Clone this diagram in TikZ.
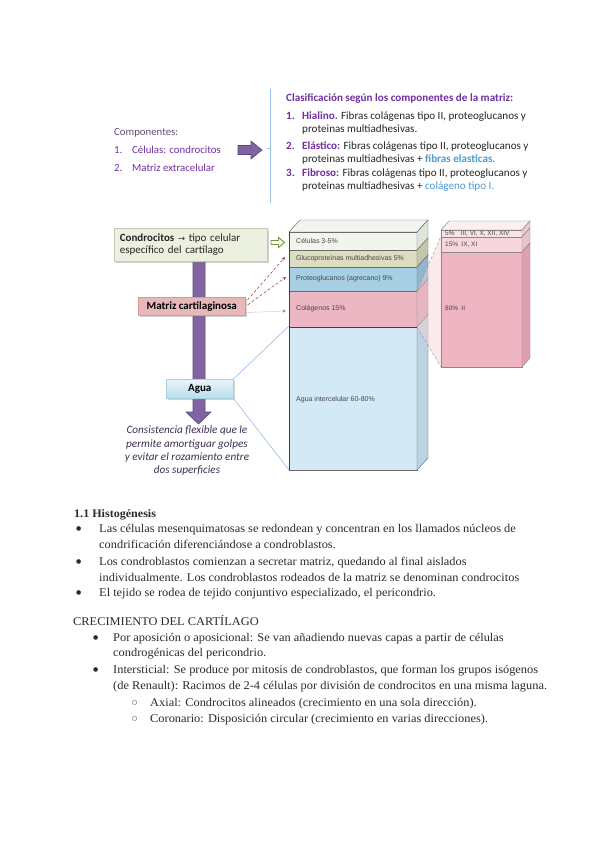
\documentclass[tikz,border=0pt]{standalone}
\usepackage{fontspec}
\setmainfont[FakeStretch=1.05]{Liberation Serif}
\newfontfamily\calfont{Carlito}
\newfontfamily\arlfont{Liberation Sans}
\newfontfamily\djfont{DejaVu Sans}
\usetikzlibrary{shadows,arrows.meta}
\definecolor{purp}{HTML}{7030A0}
\definecolor{purpgray}{HTML}{604A7B}
\definecolor{barp}{HTML}{8064A2}
\definecolor{barpd}{HTML}{5F497A}
\definecolor{bltxt}{HTML}{4A9BD6}
\definecolor{txt}{HTML}{262626}
\definecolor{brk}{HTML}{9DC3E6}
\definecolor{itxt}{HTML}{3F3151}
\definecolor{condfill}{HTML}{EBF1DE}
\definecolor{condline}{HTML}{C4C9B5}
\definecolor{matfill}{HTML}{E6B9B8}
\definecolor{matline}{HTML}{D99694}
\definecolor{aguafill}{HTML}{DBEEF4}
\definecolor{aguabot}{HTML}{B9DDEA}
\definecolor{agualine}{HTML}{A5D2E0}
\definecolor{redarr}{HTML}{953735}
\definecolor{grnarr}{HTML}{77933C}
\definecolor{edge}{HTML}{6A6A6A}
\definecolor{bodytxt}{HTML}{2B2B2B}
\definecolor{topface}{HTML}{F3F4F0}
\definecolor{celF}{HTML}{F1F5EC}
\definecolor{gluF}{HTML}{DDDDC1}
\definecolor{proF}{HTML}{A8D0E4}
\definecolor{colF}{HTML}{EDB6C3}
\definecolor{aguF}{HTML}{D3EAF6}
\definecolor{celS}{HTML}{DEE4D7}
\definecolor{gluS}{HTML}{C6C7A8}
\definecolor{proS}{HTML}{92B7CC}
\definecolor{colS}{HTML}{D89EAD}
\definecolor{aguS}{HTML}{BCD3E1}
\definecolor{fanpink}{HTML}{F6D2D8}
\definecolor{rtop}{HTML}{FBEFF0}
\definecolor{r1F}{HTML}{F8E3E5}
\definecolor{r2F}{HTML}{F6D6DA}
\definecolor{r3F}{HTML}{EFB5C2}
\definecolor{r1S}{HTML}{EBCDD2}
\definecolor{r2S}{HTML}{E7C4C9}
\definecolor{r3S}{HTML}{DDA0B0}
\begin{document}
\begin{tikzpicture}[x=1pt,y=-1pt,
  tl/.style={inner sep=0pt, anchor=west, text height=7pt, text depth=2pt, font=\calfont\fontsize{10.8}{12}\selectfont},
  ct/.style={inner sep=0pt, anchor=west, text height=7pt, text depth=2pt, text=txt, font=\calfont\fontsize{11.1}{13}\selectfont},
  ctb/.style={ct, text=purp, font=\calfont\bfseries\fontsize{11.1}{13}\selectfont},
  sl/.style={inner sep=0pt, anchor=west, text height=5pt, text depth=1.5pt, text=black!72, font=\arlfont\fontsize{7}{8}\selectfont},
  sr/.style={sl, font=\arlfont\fontsize{6.5}{7.5}\selectfont},
  bt/.style={inner sep=0pt, anchor=west, text height=8pt, text depth=2pt, text=bodytxt, font=\fontsize{11.8}{13}\selectfont},
  bul/.style={inner sep=0pt, anchor=west, text=bodytxt, font=\djfont\fontsize{6}{7}\selectfont},
  boxsh/.style={drop shadow={shadow xshift=1.5pt, shadow yshift=-1.5pt, opacity=.35}},
  redar/.style={redarr, densely dashed, line width=0.5pt, -{Stealth[length=3.5pt,width=3pt]}},
  fanline/.style={black!45, densely dashed, line width=0.35pt},
  blueline/.style={brk!90!blue, line width=0.5pt}
]
\useasboundingbox (0,0) rectangle (600,848);
\fill[white] (0,0) rectangle (600,848);

% ---------- top left list ----------
\node[tl, text=purpgray] (comp) at (114,133) {Componentes:};
\node[tl, text=purp] (n1) at (114,151) {1.};
\node[tl, text=purp] (i1) at (132,151) {Células: condrocitos};
\node[tl, text=purp] (n2) at (114,169) {2.};
\node[tl, text=purp] (i2) at (132,169) {Matriz extracelular};
% purple block arrow
\draw[barpd, fill=barp, line width=0.6pt, line join=miter]
  (238,145.5) -- (251,145.5) -- (251,141) -- (262,150) -- (251,159) -- (251,154.5) -- (238,154.5) -- cycle;

% ---------- classification ----------
\draw[brk, line width=0.8pt] (270,89) -- (270,203);
\draw[brk, line width=0.8pt] (267,148) -- (270,148);
\node[ctb] (clt) at (286,99.5) {Clasificación según los componentes de la matriz:};
\node[ctb] (c1n) at (286,117) {1.};
\node[ct] (c1a) at (302,117) {\textcolor{purp}{\bfseries Hialino.} Fibras colágenas tipo II, proteoglucanos y};
\node[ct] (c1b) at (302,129.5) {proteinas multiadhesivas.};
\node[ctb] (c2n) at (286,147) {2.};
\node[ct] (c2a) at (302,147) {\textcolor{purp}{\bfseries Elástico:} Fibras colágenas tipo II, proteoglucanos y};
\node[ct] (c2b) at (302,159.5) {proteinas multiadhesivas + \textcolor{bltxt}{\bfseries fibras elasticas.}};
\node[ctb] (c3n) at (286,174) {3.};
\node[ct] (c3a) at (302,174) {\textcolor{purp}{\bfseries Fibroso:} Fibras colágenas tipo II, proteoglucanos y};
\node[ct] (c3b) at (302,186.5) {proteinas multiadhesivas + \textcolor{bltxt}{colágeno tipo I.}};

% ---------- purple vertical arrow (behind boxes) ----------
\draw[barpd, fill=barp, line width=0.6pt] (193,260) -- (205,260) -- (205,412) -- (211,412) -- (198.5,424) -- (186,412) -- (193,412) -- cycle;

% ---------- left boxes ----------
\node[boxsh, draw=condline, fill=condfill, line width=0.6pt, anchor=north west, minimum width=150pt, minimum height=33pt,
      text width=142pt, align=left, inner xsep=5.5pt, inner ysep=2pt, font=\calfont\fontsize{11}{12}\selectfont, text=txt]
  (cond) at (114,228) {\textbf{Condrocitos} {\djfont\fontsize{8.5}{10}\selectfont →} tipo celular\\específico del cartílago};
\node[boxsh, draw=matline, fill=matfill, line width=0.5pt, anchor=north west, minimum width=107pt, minimum height=18pt,
      inner sep=0pt, font=\calfont\bfseries\fontsize{11}{12}\selectfont, text=black]
  (mat) at (138,297) {Matriz cartilaginosa};
\node[boxsh, draw=agualine, top color=aguafill!60!white, bottom color=aguabot, line width=0.5pt, anchor=north west, minimum width=67pt, minimum height=19pt,
      inner sep=0pt, font=\calfont\bfseries\fontsize{11}{12}\selectfont, text=black]
  (agua) at (166,379) {Agua};

% italic caption
\node[inner sep=0pt, text=itxt, align=center, font=\calfont\itshape\fontsize{11.2}{13.3}\selectfont, anchor=north] (cap) at (187,426)
  {Consistencia flexible que le\\permite amortiguar golpes\\y evitar el rozamiento entre\\dos superficies};

% ---------- fan from agua ----------
\coordinate (aguaT) at (289,326);
\coordinate (aguaB) at (289,470);
\draw[blueline] (agua.north east) -- (aguaT);
\draw[blueline] (agua.south east) -- (aguaB);

% ---------- main stack ----------
\begin{scope}[draw=edge, line width=0.45pt]
\filldraw[fill=topface] (289,232) -- (300,220) -- (428,220) -- (417,232) -- cycle;
\filldraw[fill=celF] (289,232) rectangle (417,250);
\filldraw[fill=gluF] (289,250) rectangle (417,267);
\filldraw[fill=proF] (289,267) rectangle (417,291);
\filldraw[fill=colF] (289,291) rectangle (417,327);
\filldraw[fill=aguF] (289,327) rectangle (417,470);
\filldraw[fill=celS] (417,232) -- (428,220) -- (428,238) -- (417,250) -- cycle;
\filldraw[fill=gluS] (417,250) -- (428,238) -- (428,255) -- (417,267) -- cycle;
\filldraw[fill=proS] (417,267) -- (428,255) -- (428,279) -- (417,291) -- cycle;
\filldraw[fill=colS] (417,291) -- (428,279) -- (428,315) -- (417,327) -- cycle;
\filldraw[fill=aguS] (417,327) -- (428,315) -- (428,458) -- (417,470) -- cycle;
\end{scope}
\draw[black!75, line width=0.7pt] (289,232) -- (289,470);
\draw[black!75, line width=0.7pt] (289,327) -- (417,327);

\node[sl] (lcel) at (296,242) {Células 3-5\%};
\node[sl] (lglu) at (296,259) {Glucoproteínas multiadhesivas 5\%};
\node[sl] (lpro) at (296,279) {Proteoglucanos (agrecano) 9\%};
\node[sl] (lcol) at (296,309) {Colágenos 15\%};
\node[sl] (lagu) at (296,400) {Agua intercelular 60-80\%};

% ---------- fan to collagen stack ----------
\fill[fanpink, opacity=0.45] (417,291) -- (441,236) -- (441,367) -- (417,327) -- cycle;
\draw[fanline] (417,291) -- (441,236);
\draw[fanline] (417,327) -- (441,367);

% ---------- collagen stack ----------
\begin{scope}[draw=edge!80, line width=0.45pt]
\filldraw[fill=rtop] (441,230) -- (449,221) -- (530,221) -- (522,230) -- cycle;
\filldraw[fill=r1F] (441,230) rectangle (522,237);
\filldraw[fill=r2F] (441,237) rectangle (522,252);
\filldraw[fill=r3F] (441,252) rectangle (522,367);
\filldraw[fill=r1S] (522,230) -- (530,221) -- (530,228) -- (522,237) -- cycle;
\filldraw[fill=r2S] (522,237) -- (530,228) -- (530,243) -- (522,252) -- cycle;
\filldraw[fill=r3S] (522,252) -- (530,243) -- (530,358) -- (522,367) -- cycle;
\end{scope}
\node[sr] (r1) at (445,233.5) {5\%\enspace\, III, VI, X, XII, XIV};
\node[sr] (r2) at (445,245) {15\%\enspace IX, XI};
\node[sr] (r3) at (445,309) {80\%\enspace II};

% ---------- arrows into the stack ----------
\coordinate (tglu) at (285,257);
\coordinate (tpro) at (286,277);
\coordinate (tcol) at (286,311);
\draw[redar] ([shift={(2,3)}]mat.north east) -- (tglu);
\draw[redar] ([shift={(2,8)}]mat.north east) -- (tpro);
\draw[redar, densely dotted, redarr!70] ([shift={(1,-3)}]mat.south east) -- (tcol);
% green hollow arrow
\draw[grnarr, fill=white, line width=0.9pt, line join=miter]
  (271,240.5) -- (278.5,240.5) -- (278.5,237.5) -- (284.5,242.5) -- (278.5,247.5) -- (278.5,244.5) -- (271,244.5) -- cycle;

% ---------- body text ----------
\node[bt, font=\bfseries\fontsize{11.5}{13}\selectfont] (h1) at (74,514) {1.1 Histogénesis};
\node[bul] (b1) at (76,529) {●};
\node[bt] (t1a) at (99,529) {Las células mesenquimatosas se redondean y concentran en los llamados núcleos de};
\node[bt] (t1b) at (99,545) {condrificación diferenciándose a condroblastos.};
\node[bul] (b2) at (76,562) {●};
\node[bt] (t2a) at (99,562) {Los condroblastos comienzan a secretar matriz, quedando al final aislados};
\node[bt] (t2b) at (99,578) {individualmente. Los condroblastos rodeados de la matriz se denominan condrocitos};
\node[bul] (b3) at (76,593) {●};
\node[bt] (t3a) at (99,593) {El tejido se rodea de tejido conjuntivo especializado, el pericondrio.};

\node[bt] (h2) at (73,622) {CRECIMIENTO DEL CARTÍLAGO};
\node[bul] (b4) at (93,638) {●};
\node[bt] (t4a) at (113,638) {Por aposición o aposicional: Se van añadiendo nuevas capas a partir de células};
\node[bt] (t4b) at (113,653) {condrogénicas del pericondrio.};
\node[bul] (b5) at (93,670) {●};
\node[bt] (t5a) at (113,670) {Intersticial: Se produce por mitosis de condroblastos, que forman los grupos isógenos};
\node[bt] (t5b) at (113,686) {(de Renault): Racimos de 2-4 células por división de condrocitos en una misma laguna.};
\node[bul] (b6) at (132,703) {○};
\node[bt] (t6) at (150,703) {Axial: Condrocitos alineados (crecimiento en una sola dirección).};
\node[bul] (b7) at (132,719) {○};
\node[bt] (t7) at (150,719) {Coronario: Disposición circular (crecimiento en varias direcciones).};
\end{tikzpicture}
\end{document}
